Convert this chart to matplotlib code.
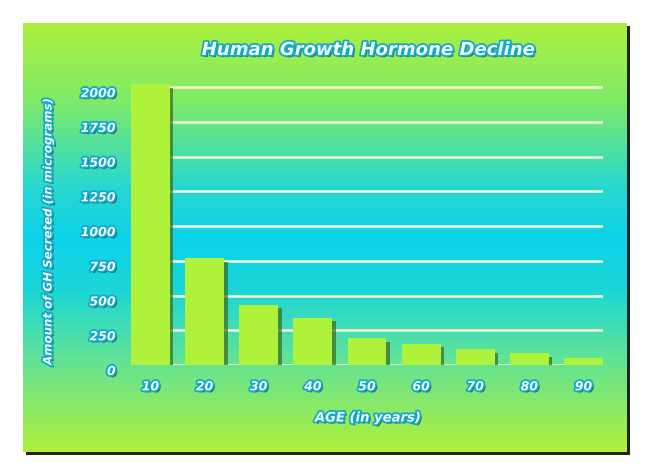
import matplotlib
matplotlib.use('Agg')
import matplotlib.pyplot as plt
import matplotlib.patheffects as pe
import matplotlib.transforms as mtransforms
from matplotlib.colors import LinearSegmentedColormap
from matplotlib.patches import Rectangle
import numpy as np

ages = ['10', '20', '30', '40', '50', '60', '70', '80', '90']
gh_amount = [2020, 770, 432, 341, 192, 151, 113, 86, 50]
yticks = [0, 250, 500, 750, 1000, 1250, 1500, 1750, 2000]

title = 'Human Growth Hormone Decline'
xlabel = 'AGE (in years)'
ylabel = 'Amount of GH Secreted (in micrograms)'

fig = plt.figure(figsize=(6.5, 4.75), dpi=100)
fig.patch.set_facecolor('white')

# panel with drop shadow
px0, py0, pw, ph = 23 / 650, (475 - 452) / 475, 604 / 650, 429 / 475
fig.patches.append(Rectangle((px0 + 3 / 650, py0 - 3 / 475), pw, ph, transform=fig.transFigure,
                             facecolor='#222222', edgecolor='none', zorder=0))
bg = fig.add_axes([px0, py0, pw, ph], zorder=1)
cmap = LinearSegmentedColormap.from_list('bg', [
    (0.0, '#acf03e'), (0.18, '#80ea68'), (0.38, '#28d8d0'), (0.5, '#0ed2e8'),
    (0.62, '#1ad6d8'), (0.78, '#60e298'), (1.0, '#b0f03a')])
grad = np.linspace(0, 1, 256).reshape(-1, 1)
bg.imshow(grad, aspect='auto', cmap=cmap, extent=[0, 1, 0, 1], origin='upper')
bg.set_axis_off()

txt_fx = [pe.SimplePatchShadow(offset=(1.5, -1.5), shadow_rgbFace='#104040', alpha=0.7),
          pe.Stroke(linewidth=2.5, foreground='#12a8c8'), pe.Normal()]
font = dict(family='DejaVu Sans', weight='bold', style='italic', color='#f0fcff')

ax = fig.add_axes([131 / 650, 110 / 475, 472 / 650, 282 / 475], zorder=2)
ax.set_facecolor('none')
x = np.arange(len(ages))
bars = ax.bar(x, gh_amount, width=0.72, color='#aef23c', zorder=3)
for b in bars:
    b.set_path_effects([pe.SimplePatchShadow(offset=(2.5, -2.5), shadow_rgbFace='#3a6a20', alpha=0.7),
                        pe.Normal()])
ax.set_xlim(-0.36, len(ages) - 0.64)
ax.set_ylim(0, 2030)
ax.set_yticks(yticks)
ax.set_xticks(x)
ax.set_xticklabels(ages)
ax.yaxis.grid(True, color='#f6f8d8', linewidth=1.8, zorder=1)
ax.set_axisbelow(True)
for s in ax.spines.values():
    s.set_visible(False)
ax.tick_params(length=0, pad=11)
ax.tick_params(axis='y', pad=11)
shift = mtransforms.ScaledTranslation(0, -5 / 100, fig.dpi_scale_trans)
for lab in ax.get_yticklabels():
    lab.set_transform(lab.get_transform() + shift)
for lab in ax.get_xticklabels() + ax.get_yticklabels():
    lab.set_fontsize(9)
    lab.set_fontweight('bold')
    lab.set_fontstyle('italic')
    lab.set_color('#f0fcff')
    lab.set_path_effects(txt_fx)

fig.text(368 / 650, 1 - 50 / 475, title, ha='center', va='center', fontsize=13,
         path_effects=txt_fx, **font)
fig.text(368 / 650, 1 - 418 / 475, xlabel, ha='center', va='center', fontsize=9.5,
         path_effects=txt_fx, **font)
fig.text(48 / 650, 1 - 232 / 475, ylabel, ha='center', va='center', rotation=90, fontsize=8.5,
         path_effects=txt_fx, **font)

fig.savefig('out.png', dpi=100)
